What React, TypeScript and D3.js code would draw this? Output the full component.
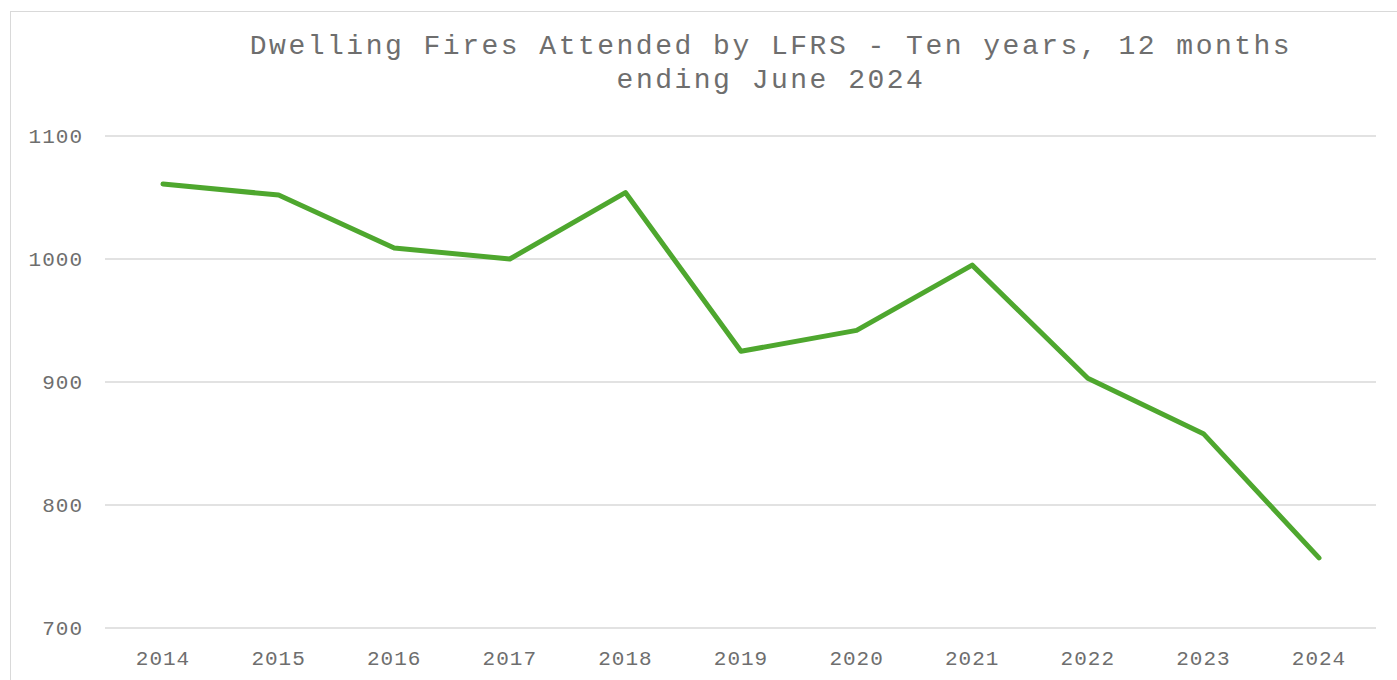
import React from 'react';
import * as d3 from 'd3';

const years = ['2014', '2015', '2016', '2017', '2018', '2019', '2020', '2021', '2022', '2023', '2024'];
const fires = [1061, 1052, 1009, 1000, 1054, 925, 942, 995, 903, 858, 757];
const yTicks = [700, 800, 900, 1000, 1100];
const titleLines = ['Dwelling Fires Attended by LFRS - Ten years, 12 months', 'ending June 2024'];

const width = 1397;
const height = 680;
const font = '"Liberation Mono", "Courier New", monospace';
const textColor = '#6e6e6e';

const App: React.FC = () => {
  const x = d3.scalePoint<string>()
    .domain(years)
    .range([163, 1319]);

  const y = d3.scaleLinear()
    .domain([700, 1100])
    .range([628, 136]);

  const line = d3.line<number>()
    .x((_, i) => x(years[i]) as number)
    .y(d => y(d));

  return (
    <svg
      width={width}
      height={height}
      style={{ position: 'absolute', left: 0, top: 0, background: '#fff' }}
    >
      {/* chart frame */}
      <rect x={10.5} y={11.5} width={1400} height={700} fill="#fff" stroke="#d9d9d9" strokeWidth={1} />

      {/* Title */}
      {titleLines.map((t, i) => (
        <text
          key={t}
          x={771}
          y={54 + i * 34}
          textAnchor="middle"
          fontFamily={font}
          fontSize={28}
          letterSpacing={2.5}
          fill={textColor}
        >
          {t}
        </text>
      ))}

      {/* Gridlines + y labels */}
      {yTicks.map(t => (
        <g key={t}>
          <line x1={105} x2={1376} y1={y(t)} y2={y(t)} stroke="#d9d9d9" strokeWidth={1.5} />
          <text
            x={83}
            y={y(t)}
            dy="0.35em"
            textAnchor="end"
            fontFamily={font}
            fontSize={21}
            letterSpacing={1}
            fill={textColor}
          >
            {t}
          </text>
        </g>
      ))}

      {/* x labels */}
      {years.map(yr => (
        <text
          key={yr}
          x={x(yr)}
          y={665}
          textAnchor="middle"
          fontFamily={font}
          fontSize={21}
          letterSpacing={1}
          fill={textColor}
        >
          {yr}
        </text>
      ))}

      {/* Series line */}
      <path
        d={line(fires) || ''}
        fill="none"
        stroke="#4ea72e"
        strokeWidth={5}
        strokeLinejoin="round"
        strokeLinecap="round"
      />
    </svg>
  );
};

export default App;
